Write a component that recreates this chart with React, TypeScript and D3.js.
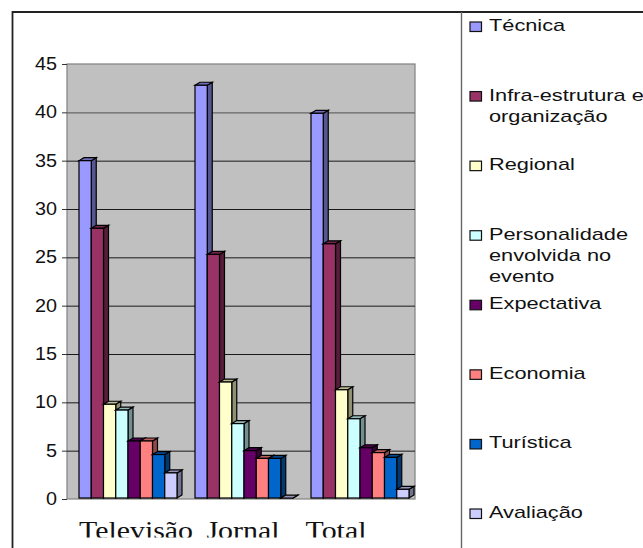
import { useEffect, useRef } from 'react';
import * as d3 from 'd3';

const categories = ['Televisão', 'Jornal', 'Total'];
const seriesNames = [
  ['Técnica'],
  ['Infra-estrutura e', 'organização'],
  ['Regional'],
  ['Personalidade', 'envolvida no', 'evento'],
  ['Expectativa'],
  ['Economia'],
  ['Turística'],
  ['Avaliação'],
];
const seriesColors = ['#9999ff', '#993366', '#ffffcc', '#ccffff', '#660066', '#ff8080', '#0066cc', '#ccccff'];
const televisao = [35, 28, 9.8, 9.2, 6, 6, 4.6, 2.7];
const jornal = [42.8, 25.3, 12.1, 7.8, 5, 4.2, 4.2, 0.1];
const total = [39.9, 26.4, 11.3, 8.3, 5.3, 4.8, 4.3, 1];
const yTicks = [0, 5, 10, 15, 20, 25, 30, 35, 40, 45];

const WIDTH = 643;
const HEIGHT = 548;

export default function App() {
  const svgRef = useRef<SVGSVGElement>(null);

  useEffect(() => {
    if (!svgRef.current) return;
    const svg = d3.select(svgRef.current);
    svg.selectAll('*').remove();

    const plot = { left: 67, right: 415, top: 64, bottom: 499 };
    const depth = { x: 5, y: 3 };
    const values = [televisao, jornal, total];

    const x0 = d3.scaleBand<string>().domain(categories).range([plot.left, plot.right]);
    const x1 = d3.scaleBand<number>()
      .domain(d3.range(seriesNames.length))
      .range([12, 110]);
    const y = d3.scaleLinear().domain([0, 45]).range([plot.bottom, plot.top]);

    // Outer frame, open at the bottom
    svg.append('path')
      .attr('d', `M12.5,${HEIGHT} V12 H${WIDTH}`)
      .attr('fill', 'none')
      .attr('stroke', '#222')
      .attr('stroke-width', 1.8);
    svg.append('line')
      .attr('x1', 461.5).attr('x2', 461.5)
      .attr('y1', 12).attr('y2', HEIGHT)
      .attr('stroke', '#666')
      .attr('stroke-width', 1.4);

    // Back wall
    svg.append('rect')
      .attr('x', plot.left)
      .attr('y', plot.top)
      .attr('width', plot.right - plot.left)
      .attr('height', plot.bottom - plot.top)
      .attr('fill', '#c0c0c0')
      .attr('stroke', '#808080')
      .attr('stroke-width', 1.2);

    // Grid and ticks
    const axis = svg.append('g')
      .attr('transform', `translate(${plot.left},0)`)
      .call(d3.axisLeft(y).tickValues(yTicks).tickSize(5).tickPadding(5));
    axis.select('.domain').remove();
    axis.selectAll('line').attr('stroke', '#333');
    axis.selectAll<SVGTextElement, number>('text')
      .style('font-family', '"Liberation Sans", Arial, sans-serif')
      .style('font-size', '17.5px')
      .attr('fill', '#111')
      .attr('textLength', d => String(d).length * 11)
      .attr('lengthAdjust', 'spacingAndGlyphs');

    svg.append('g')
      .selectAll('line')
      .data(yTicks.filter(d => d > 0 && d < 45))
      .join('line')
      .attr('x1', plot.left)
      .attr('x2', plot.right)
      .attr('y1', d => y(d) + 0.5)
      .attr('y2', d => y(d) + 0.5)
      .attr('stroke', d => (d === 40 ? '#666' : '#1a1a1a'))
      .attr('stroke-width', d => (d === 40 ? 1.4 : 1));

    // 3D bars, drawn left to right so each bar covers its neighbour's side
    categories.forEach((cat, c) => {
      const g = svg.append('g').attr('transform', `translate(${x0(cat)},0)`);
      values[c].forEach((v, s) => {
        const bx = x1(s) as number;
        const w = x1.bandwidth();
        const top = y(v);
        const base = plot.bottom - 1;
        const color = d3.color(seriesColors[s]) as d3.RGBColor;

        g.append('path')
          .attr('d', `M${bx + w},${top} l${depth.x},${-depth.y} V${base - depth.y} L${bx + w},${base} Z`)
          .attr('fill', color.darker(1.6).formatHex())
          .attr('stroke', '#000')
          .attr('stroke-width', 1.2);
        g.append('path')
          .attr('d', `M${bx},${top} l${depth.x},${-depth.y} h${w} l${-depth.x},${depth.y} Z`)
          .attr('fill', color.darker(0.9).formatHex())
          .attr('stroke', '#000')
          .attr('stroke-width', 1.2);
        g.append('rect')
          .attr('x', bx)
          .attr('y', top)
          .attr('width', w)
          .attr('height', Math.max(base - top, 0))
          .attr('fill', seriesColors[s])
          .attr('stroke', '#000')
          .attr('stroke-width', 1.2);
      });
    });

    // Category labels, cut off by the bottom of the chart area
    svg.append('clipPath')
      .attr('id', 'label-clip')
      .append('rect')
      .attr('x', 0).attr('y', 500)
      .attr('width', 461).attr('height', 37.5);
    const labelX = [136, 243, 336];
    svg.append('g')
      .attr('clip-path', 'url(#label-clip)')
      .selectAll('text')
      .data(categories)
      .join('text')
      .attr('transform', (_, i) => `translate(${labelX[i]},539) scale(1.15,1)`)
      .attr('text-anchor', 'middle')
      .style('font-family', '"Liberation Serif", "Times New Roman", serif')
      .style('font-size', '26px')
      .attr('fill', '#111')
      .text(d => d);

    // Legend
    const legendY = d3.scaleLinear().domain([0, 7]).range([25, 512]);
    const legend = svg.append('g');
    seriesNames.forEach((lines, i) => {
      const ly = legendY(i);
      legend.append('rect')
        .attr('x', 470)
        .attr('y', ly - 3)
        .attr('width', 11.5)
        .attr('height', 9.5)
        .attr('fill', seriesColors[i])
        .attr('stroke', '#111')
        .attr('stroke-width', 1.2);
      lines.forEach((line, j) => {
        legend.append('text')
          .attr('transform', `translate(489,${ly + 6 + j * 21}) scale(1.28,1)`)
          .style('font-family', '"Liberation Sans", Arial, sans-serif')
          .style('font-size', '17px')
          .attr('fill', '#111')
          .text(line);
      });
    });
  }, []);

  return (
    <svg
      ref={svgRef}
      width={WIDTH}
      height={HEIGHT}
      style={{ position: 'absolute', left: 0, top: 0, background: '#fff' }}
    />
  );
}
